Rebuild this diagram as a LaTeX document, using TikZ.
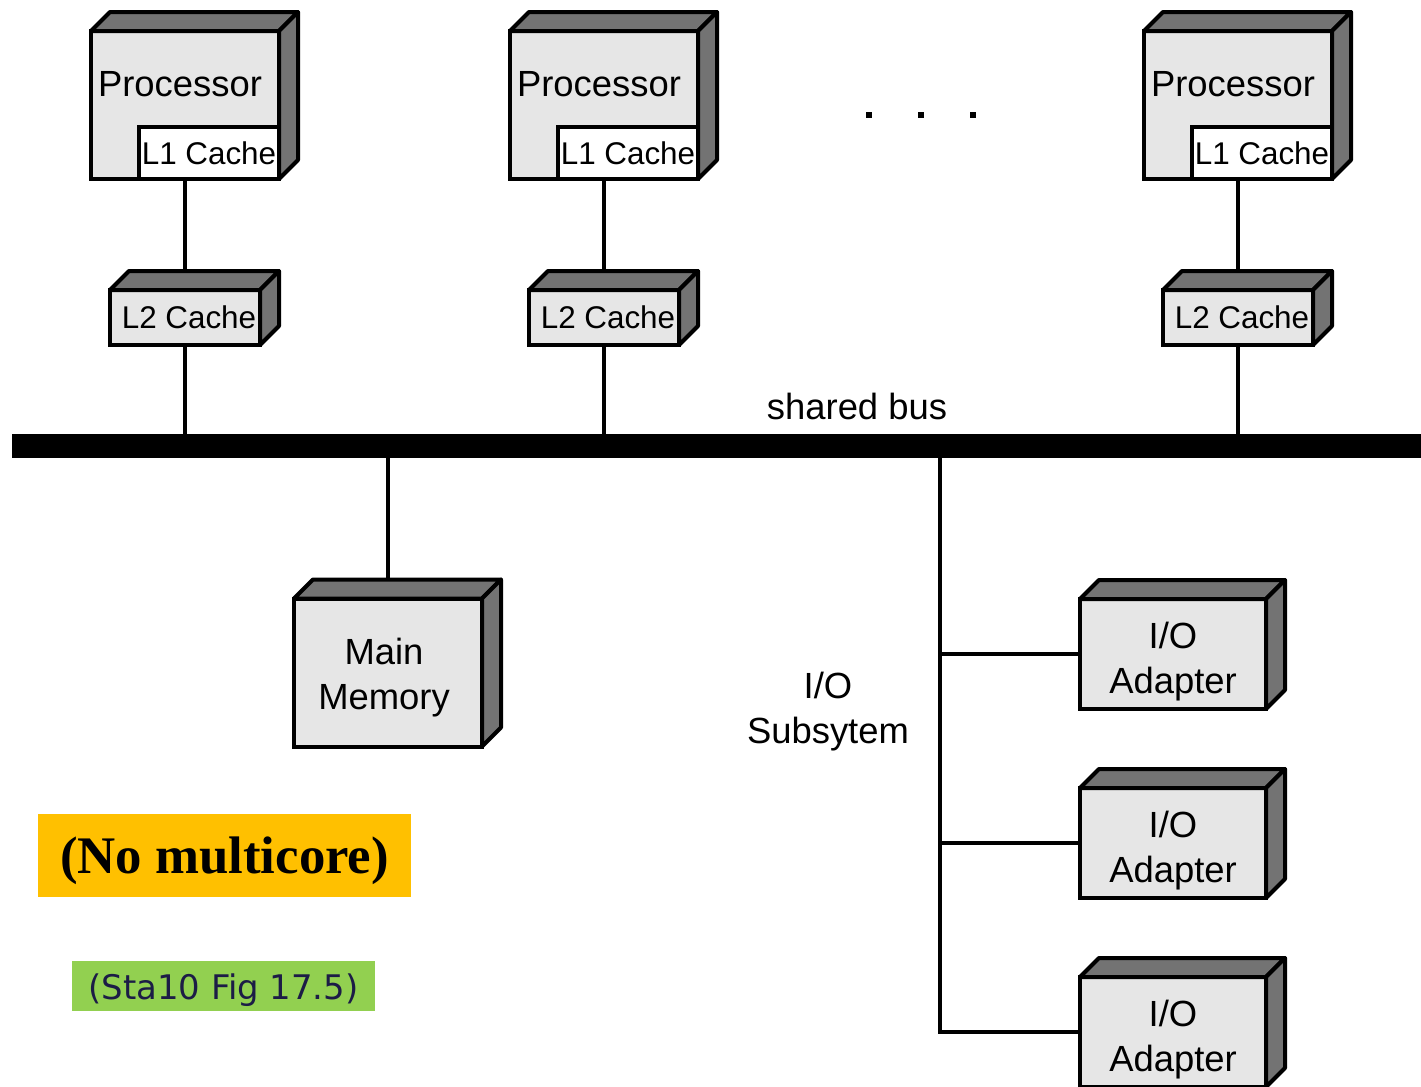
\documentclass[tikz,border=0pt]{standalone}
\usepackage{fontspec}
\setmainfont{Liberation Serif}
\setsansfont{Liberation Sans}
\newfontfamily\figfont{DejaVu Sans}
\usetikzlibrary{positioning}
\definecolor{facegray}{HTML}{E6E6E6}
\definecolor{sidegray}{HTML}{737373}
\definecolor{noteorange}{HTML}{FFC000}
\definecolor{notegreen}{HTML}{92D050}
\definecolor{notenavy}{HTML}{1C1C46}
\tikzset{
	unit/.style = {rectangle, draw=black, line width=2pt, outer sep=0pt,
		inner sep=0pt, align=center, font=\sffamily\fontsize{18.2}{22.5}\selectfont},
	unit_big/.style = {unit, fill=facegray, minimum width=94pt,
		minimum height=74pt},% processor, memory
	unit_l1/.style = {unit, fill=white, minimum width=70pt, minimum height=26pt,
		font=\sffamily\fontsize{15.7}{18}\selectfont},% l1 inside processor
	unit_l2/.style = {unit, fill=facegray, minimum width=75pt, minimum height=27.5pt,
		font=\sffamily\fontsize{15.7}{18}\selectfont},% l2 cache
	unit_io/.style = {unit, fill=facegray, minimum width=93pt,
		minimum height=55pt},% io adapter
	lbl/.style = {inner sep=0pt, align=center,
		font=\sffamily\fontsize{18.2}{22.5}\selectfont},
	busbar/.style = {rectangle, fill=black, inner sep=0pt, outer sep=0pt,
		minimum width=704.5pt, minimum height=12pt},
	face/.style = {fill=sidegray, draw=black, line width=2pt, line join=round},
	wire/.style = {draw=black, line width=2pt},
	note/.style = {rectangle, inner sep=0pt, outer sep=0pt, text depth=0pt}
}

\begin{document}
\begin{tikzpicture}[x=0.5pt, y=-0.5pt]
	\useasboundingbox (0,0) rectangle (1421,1087);
	% shared bus
	\node [busbar] (bus) at (716.5,446) {};
	\node [lbl] (bustxt) at (857,406) {shared bus};
	% processors with caches
	\foreach \i/\x in {1/185, 2/604, 3/1238} {
		\node [unit_big] (p\i) at (\x,105) {};
		\node [unit_l1, anchor=south east] (lone\i) at (p\i.south east) {L1 Cache};
		\node [lbl] (ptxt\i) at (\x-5,84) {Processor};
		\node [unit_l2] (ltwo\i) at (\x,317.5) {\hspace{4pt}L2 Cache};
		\draw [wire] (p\i.south -| ltwo\i.north) -- (ltwo\i.north);
		\draw [wire] (ltwo\i.south) -- (ltwo\i.south |- bus.north);
	}
	\foreach \x in {869,921,973}
		\fill (\x-3,112) rectangle (\x+3,118);
	% memory
	\node [unit_big, label={[lbl, xshift=-2pt, yshift=-2.5pt]center:{Main\\Memory}}]
		(mem) at (388,672.5) {};
	\draw [wire] (mem.north |- bus.south) -- (mem.north);
	% io subsystem
	\coordinate (iotap) at (940,446);
	\node [lbl] (iotxt) at (828,712) {I/O\\Subsytem};
	\foreach \i/\y in {1/654, 2/843, 3/1032}
		\node [unit_io, label={[lbl, yshift=-4pt]center:{I/O\\Adapter}}]
			(io\i) at (1173,\y) {};
	\draw [wire] (iotap |- bus.south) -- (iotap |- io3.west) -- (io3.west);
	\foreach \i in {1,2}
		\draw [wire] (iotap |- io\i.west) -- (io\i.west);
	% 3d faces
	\foreach \n in {p1,p2,p3,ltwo1,ltwo2,ltwo3,mem,io1,io2,io3} {
		\filldraw [face] (\n.north west) -- ++(19,-19)
			-- ([shift={(19,-19)}]\n.north east) -- (\n.north east) -- cycle;
		\filldraw [face] (\n.north east) -- ++(19,-19)
			-- ([shift={(19,-19)}]\n.south east) -- (\n.south east) -- cycle;
	}
	% notes
	\node [note, fill=noteorange, minimum width=186.5pt, minimum height=41.5pt,
		text height=18.4pt,
		font=\rmfamily\bfseries\fontsize{26.4}{30}\selectfont] (nomc) at (224.5,855.5)
		{(No multicore)\hspace{4.5pt}};
	\node [note, fill=notegreen, minimum width=151.5pt, minimum height=25pt,
		text height=13.7pt, text=notenavy,
		font=\figfont\fontsize{16.95}{20}\selectfont] (src) at (223.5,986)
		{(Sta10 Fig 17.5)\hspace{4pt}};
\end{tikzpicture}
\end{document}
